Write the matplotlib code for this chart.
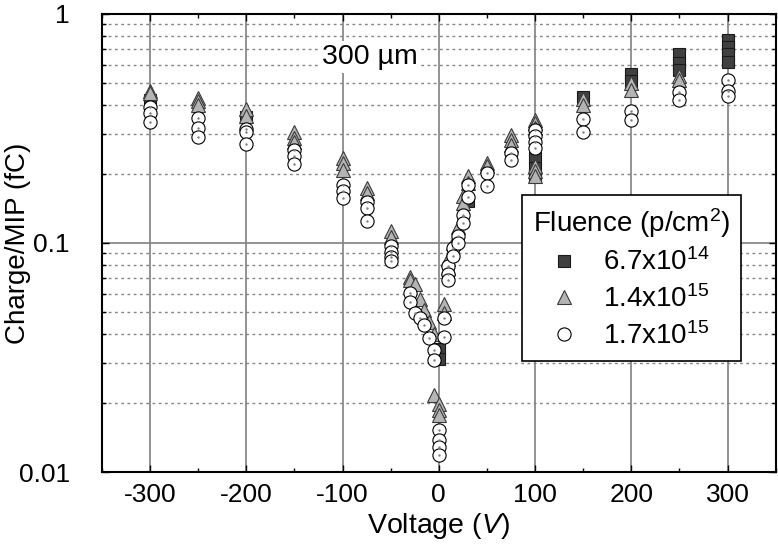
import matplotlib
matplotlib.use('Agg')
import numpy as np
import matplotlib.pyplot as plt
from matplotlib.lines import Line2D
from matplotlib.ticker import LogLocator, NullFormatter

# ---------------- data ----------------
sq_v = [-300, -200, 0, 0, 30, 100, 100, 100, 150, 200, 200, 250, 250, 250, 300, 300, 300, 300]
sq_q = [0.42, 0.355, 0.0345, 0.031, 0.152, 0.235, 0.213, 0.20, 0.432, 0.547, 0.51,
        0.669, 0.611, 0.57, 0.77, 0.718, 0.669, 0.617]

tri_v = [-300, -300, -250, -250, -250, -200, -200, -150, -150, -150,
         -100, -100, -100, -75, -75, -50, -50, -30, -30, -25, -20, -15, -10, -5, -5,
         0, 0, 0, 5, 5, 10, 10, 15, 20, 25, 25, 30, 30, 50, 50, 75, 75, 75,
         100, 100, 100, 100, 100, 100, 150, 150, 200, 200, 250, 250]
tri_q = [0.463, 0.452, 0.43, 0.415, 0.40, 0.385, 0.359, 0.304, 0.288, 0.277,
         0.235, 0.223, 0.208, 0.174, 0.165, 0.113, 0.106, 0.071, 0.069, 0.066, 0.057, 0.051, 0.045, 0.040, 0.0216,
         0.0198, 0.0186, 0.0177, 0.054, 0.0497, 0.085, 0.078, 0.10, 0.118, 0.16, 0.15, 0.196, 0.183, 0.224, 0.216,
         0.296, 0.282, 0.268,
         0.345, 0.335, 0.318, 0.216, 0.206, 0.196, 0.426, 0.40, 0.50, 0.466, 0.534, 0.516]

circ_v = [-300, -300, -300, -250, -250, -250, -200, -200, -200, -150, -150, -150,
          -100, -100, -100, -75, -75, -75, -50, -50, -50, -50, -30, -30, -25, -20, -15, -10, -5, -5,
          0, 0, 0, 0, 5, 5, 10, 10, 10, 15, 15, 20, 20, 25, 25, 30, 30, 50, 50, 75, 75,
          100, 100, 100, 100, 150, 150, 200, 200, 250, 250, 300, 300, 300]
circ_q = [0.394, 0.368, 0.339, 0.35, 0.317, 0.291, 0.315, 0.306, 0.270, 0.255, 0.240, 0.221,
          0.179, 0.168, 0.157, 0.151, 0.142, 0.125, 0.097, 0.0917, 0.0871, 0.0837, 0.0605, 0.0552,
          0.0494, 0.047, 0.0438, 0.0385, 0.034, 0.0308,
          0.0153, 0.0138, 0.0129, 0.0119, 0.047, 0.039, 0.079, 0.073, 0.069, 0.095, 0.088,
          0.107, 0.10, 0.133, 0.122, 0.179, 0.159, 0.202, 0.178, 0.247, 0.231,
          0.312, 0.292, 0.277, 0.259, 0.347, 0.305, 0.375, 0.345, 0.458, 0.419, 0.515, 0.461, 0.439]

series_labels = ['6.7x10$^{14}$', '1.4x10$^{15}$', '1.7x10$^{15}$']
legend_title = 'Fluence (p/cm$^2$)'
x_major = [-300, -200, -100, 0, 100, 200, 300]
x_minor = [-350, -250, -150, -50, 50, 150, 250, 350]
y_major = [0.01, 0.1, 1]
y_major_labels = ['0.01', '0.1', '1']

# ---------------- style ----------------
plt.rcParams['font.family'] = ['Liberation Sans', 'DejaVu Sans']
plt.rcParams['mathtext.fontset'] = 'custom'
plt.rcParams['mathtext.rm'] = 'Liberation Sans'
plt.rcParams['mathtext.it'] = 'Liberation Sans:italic'
plt.rcParams['mathtext.bf'] = 'Liberation Sans:bold'

FS = 19
FS_LAB = 20
FS_LEG = 20

fig = plt.figure(figsize=(7.78, 5.56), dpi=100)
ax = fig.add_axes([0.131, 0.151, 0.866, 0.824])

ax.set_yscale('log')
ax.set_xlim(-350, 350)
ax.set_ylim(0.01, 1)
ax.set_axisbelow(True)

ax.set_xticks(x_major)
ax.set_xticklabels([str(v) for v in x_major])
ax.set_xticks(x_minor, minor=True)
ax.set_yticks(y_major)
ax.set_yticklabels(y_major_labels)
ax.yaxis.set_minor_locator(LogLocator(base=10, subs=np.arange(2, 10)))
ax.yaxis.set_minor_formatter(NullFormatter())

ax.tick_params(which='both', direction='in', top=True, right=True, labelsize=FS, width=1.0)
ax.tick_params(which='major', length=5)
ax.tick_params(which='minor', length=3)
ax.tick_params(axis='x', which='major', pad=8)
ax.tick_params(axis='y', which='major', pad=23)

ax.grid(True, which='major', axis='x', color='#808080', lw=1.2, ls='-')
ax.grid(True, which='major', axis='y', color='#808080', lw=1.2, ls='-')
ax.grid(True, which='minor', axis='y', color='#858585', lw=1.0, ls=(0, (2, 2.5)))

for s in ax.spines.values():
    s.set_linewidth(1.5)
    s.set_color('black')

sq_style = dict(marker='s', ms=9, mfc='#404040', mec='#1a1a1a', mew=0.8, ls='none')
tri_style = dict(marker='^', ms=10.5, mfc='#b4b4b4', mec='#3a3a3a', mew=0.8, ls='none')
circ_style = dict(marker='o', ms=9.5, mfc='white', mec='black', mew=0.8, ls='none')

ax.plot(sq_v, sq_q, zorder=3, **sq_style)
ax.plot(tri_v, tri_q, zorder=4, **tri_style)
ax.plot(circ_v, circ_q, zorder=5, **circ_style)
ax.plot(circ_v, circ_q, ls='none', marker='.', ms=1.5, color='#808080', zorder=6)

ax.set_xlabel('Voltage ($V$)', fontsize=FS_LAB + 0.5, labelpad=3)
ax.set_ylabel('Charge/MIP (fC)', fontsize=FS_LAB, labelpad=-9)

ax.text(-72, 0.65, '300 \u00b5m', ha='center', va='center', fontsize=FS_LEG + 0.5, zorder=2,
        bbox=dict(fc='white', ec='none', pad=2))

handles = [Line2D([], [], **sq_style), Line2D([], [], **tri_style), Line2D([], [], **circ_style)]
leg = ax.legend(handles, series_labels, title=legend_title, loc='upper left',
                bbox_to_anchor=(0.623, 0.605), fontsize=FS_LEG, title_fontsize=FS_LEG,
                frameon=True, fancybox=False, framealpha=1, edgecolor='black',
                borderpad=0.4, labelspacing=0.32, handletextpad=1.0, handlelength=0.8,
                borderaxespad=0)
leg.get_frame().set_linewidth(1.2)
leg.set_zorder(10)

fig.savefig('out.png', dpi=100)
